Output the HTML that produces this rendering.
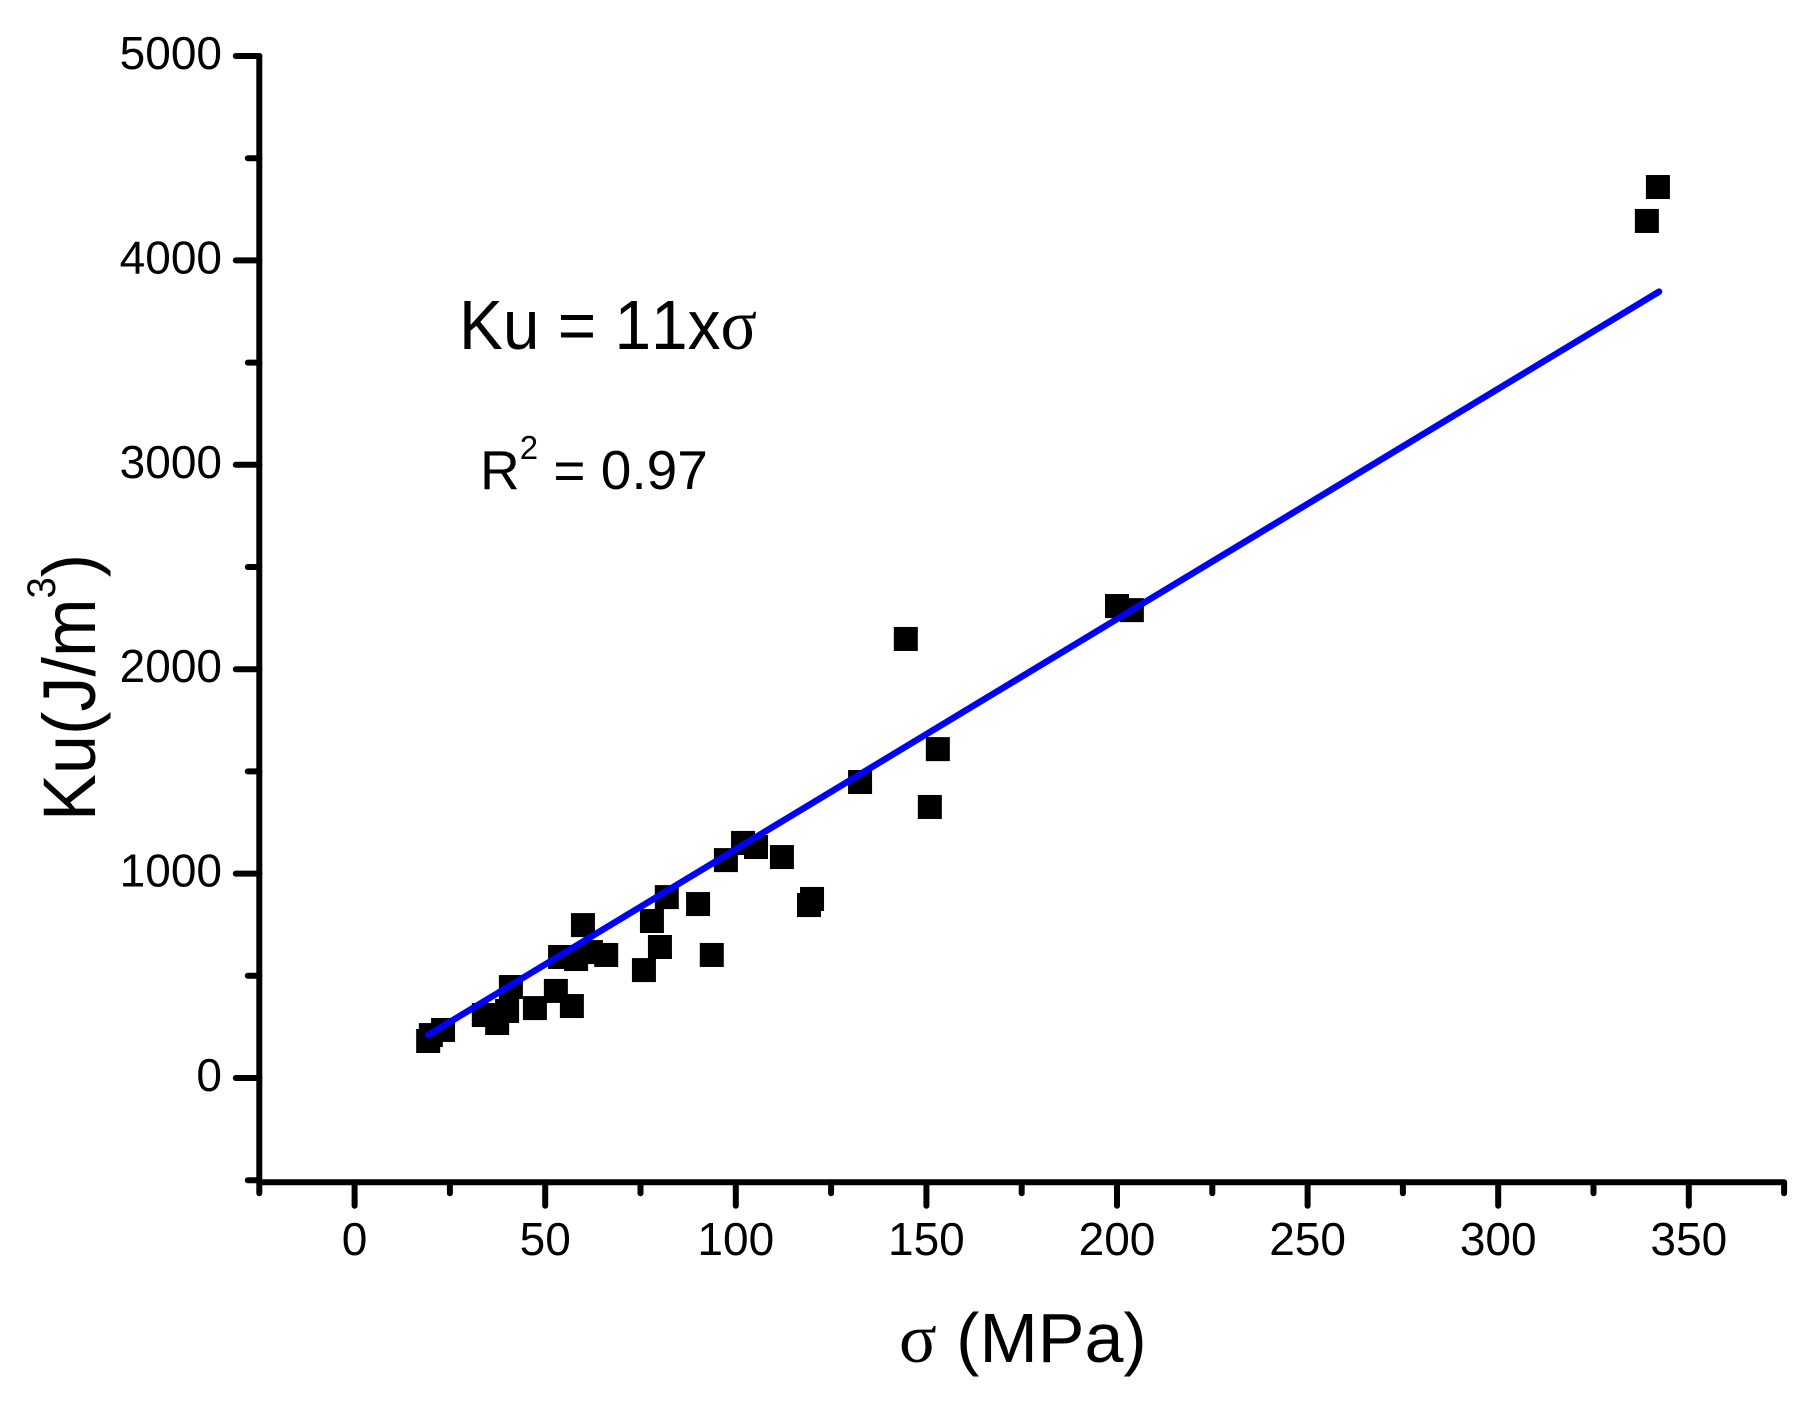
<!DOCTYPE html>
<html lang="en">
<head>
<meta charset="utf-8">
<title>Ku vs stress</title>
<style>
html,body{margin:0;padding:0;background:#fff;width:1817px;height:1403px;overflow:hidden}
svg{display:block}
text{font-family:"Liberation Sans",sans-serif;fill:#000;font-kerning:none}
.sym{font-family:"Liberation Serif",serif}
</style>
</head>
<body>
<svg id="chart" xmlns="http://www.w3.org/2000/svg" width="1817" height="1403" viewBox="0 0 1817 1403">
  <rect x="0" y="0" width="1817" height="1403" fill="#fff"/>
  <g id="axes"></g>
  <g id="points"></g>
  <g id="fit"></g>
  <text transform="translate(459,349) scale(0.94,1)" font-size="70">Ku = 11x<tspan class="sym" font-size="72">σ</tspan></text>
  <text x="480" y="489" font-size="55">R<tspan dy="-30" font-size="33">2</tspan><tspan dy="30"> = 0.97</tspan></text>
  <text x="899" y="1362" font-size="70"><tspan class="sym" font-size="70">σ</tspan> (MPa)</text>
  <text transform="translate(95,821) rotate(-90) scale(0.95,1)" font-size="74">Ku(J/m<tspan dy="-40" font-size="40">3</tspan><tspan dy="40">)</tspan></text>
</svg>
<script>
var sigmaValues = [19.3,20.0,23.2,33.9,40.0,37.4,41.0,47.3,52.8,57.0,53.9,58.1,62.0,66.0,59.9,75.9,80.1,78.0,81.9,90.1,93.7,97.4,101.9,105.3,112.1,119.2,120.0,132.6,144.6,150.9,153.0,200.0,203.9,341.9,339.0];
var kuValues = [181,210,235,308,328,269,445,342,426,352,592,582,616,602,748,528,641,768,885,851,602,1066,1150,1130,1081,846,876,1448,2148,1326,1609,2309,2289,4359,4193];
var fitSigma = [19.3,342.2];
var fitKu = [210,3847];
var xMajorTicks = [0,50,100,150,200,250,300,350];
var xMinorTicks = [-25,25,75,125,175,225,275,325,375];
var yMajorTicks = [0,1000,2000,3000,4000,5000];
var yMinorTicks = [-500,500,1500,2500,3500,4500];

var NS = 'http://www.w3.org/2000/svg';
function xScale(v){ return 354.6 + v * 3.812; }
function yScale(v){ return 1078 - v * 0.2044; }

function make(parent, tag, attrs){
  var el = document.createElementNS(NS, tag);
  for (var k in attrs) el.setAttribute(k, attrs[k]);
  parent.appendChild(el);
  return el;
}
var axes = document.getElementById('axes');
var points = document.getElementById('points');
var fit = document.getElementById('fit');
function line(parent, x1, y1, x2, y2){
  return make(parent, 'line', {x1:x1,y1:y1,x2:x2,y2:y2,stroke:'#000','stroke-width':6,'stroke-linecap':'round'});
}

var axisX = xScale(-25);
var axisY = yScale(-500) + 2;

var yAxisLine = line(axes, axisX, yScale(5000), axisX, axisY);


var xAxisLine = line(axes, axisX, axisY, xScale(375), axisY);
xAxisLine.setAttribute('stroke-linecap', 'butt');



xMajorTicks.forEach(function(v){
  var t = line(axes, xScale(v), axisY, xScale(v), axisY + 23.5);
  
  
  var l = make(axes, 'text', {x:xScale(v), y:axisY + 73, 'font-size':46, 'text-anchor':'middle'});
  l.textContent = String(v);
  
  
});
xMinorTicks.forEach(function(v){
  var t = line(axes, xScale(v), axisY, xScale(v), axisY + 11);
  
  
});
yMajorTicks.forEach(function(v){
  var t = line(axes, axisX, yScale(v), axisX - 23.5, yScale(v));
  
  
  var l = make(axes, 'text', {x:222, y:yScale(v) + 13, 'font-size':46, 'text-anchor':'end'});
  l.textContent = String(v);
  
  
});
yMinorTicks.forEach(function(v){
  var t = line(axes, axisX, yScale(v), axisX - 11.5, yScale(v));
  
  
});

sigmaValues.forEach(function(s, i){
  var r = make(points, 'rect', {x:xScale(s) - 12, y:yScale(kuValues[i]) - 12, width:24, height:24, fill:'#000'});
  
  
});

var fitPoints = fitSigma.map(function(s, i){ return xScale(s) + ',' + yScale(fitKu[i]); }).join(' ');
var fitLine = make(fit, 'polyline', {points:fitPoints, fill:'none', stroke:'#0000ff', 'stroke-width':6.5, 'stroke-linecap':'round'});


</script>
</body>
</html>
